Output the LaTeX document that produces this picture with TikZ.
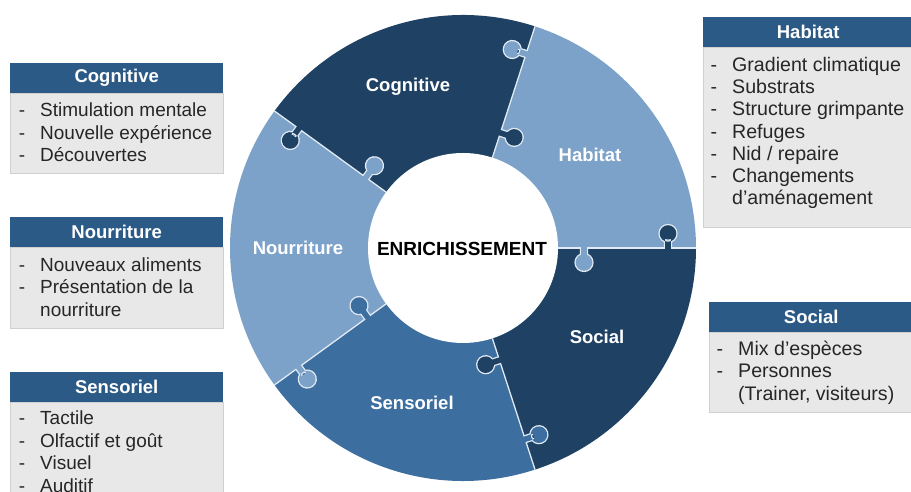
\documentclass[tikz,border=0pt]{standalone}
\usepackage{fontspec}
\setmainfont{Liberation Sans}
\definecolor{pieceDark}{HTML}{1F4264}
\definecolor{pieceLight}{HTML}{7CA2C9}
\definecolor{pieceMid}{HTML}{3C6E9F}
\definecolor{headBlue}{HTML}{2C5A86}
\definecolor{bodyGray}{HTML}{E8E8E8}
\definecolor{bodyLine}{HTML}{D0D0D0}
\definecolor{seamColor}{HTML}{E2EAF3}
\newcommand{\listdash}{\llap{-\hspace{15pt}}}
\begin{document}
\begin{tikzpicture}[x=1pt,y=1pt,
  seam/.style={draw=seamColor, line width=1.3pt},
  headbox/.style={fill=headBlue, text=white, anchor=north west, inner sep=0pt,
    minimum height=30pt, font=\bfseries\fontsize{18.5}{22}\selectfont},
  bodybox/.style={fill=bodyGray, draw=bodyLine, line width=0.8pt, anchor=north west, inner sep=0pt},
  item/.style={anchor=base west, inner sep=0pt, text=black!85, font=\fontsize{19}{22.5}\selectfont},
  itemR/.style={item, font=\fontsize{19.6}{22.5}\selectfont},
  piecelabel/.style={text=white, inner sep=0pt, font=\bfseries\fontsize{18.5}{22}\selectfont}]
\clip (0,0) rectangle (911,492);
\fill[white] (0,0) rectangle (911,492);

% ---- puzzle ring ----
\begin{scope}[shift={(463,244)}]
  \fill[pieceLight] (0,0) -- (0:233) arc[start angle=0, end angle=72, radius=233] -- cycle;
  \fill[pieceDark] (0,0) -- (72:233) arc[start angle=72, end angle=144, radius=233] -- cycle;
  \fill[pieceLight] (0,0) -- (144:233) arc[start angle=144, end angle=216, radius=233] -- cycle;
  \fill[pieceMid] (0,0) -- (216:233) arc[start angle=216, end angle=288, radius=233] -- cycle;
  \fill[pieceDark] (0,0) -- (288:233) arc[start angle=288, end angle=360, radius=233] -- cycle;
  % seams between the pieces
  \foreach \a in {0,72,144,216,288}
    \draw[seam] (\a:95) -- (\a:233);
  % knobs: seam angle / radius / side / colour of the piece they belong to
  \foreach \a/\r/\s/\c in {72/204/1/pieceLight, 72/121/-1/pieceDark,
                           0/205/1/pieceDark, 0/121/-1/pieceLight,
                           288/201/1/pieceMid, 288/118/-1/pieceDark,
                           216/203/1/pieceLight, 216/118/-1/pieceMid,
                           144/203/1/pieceDark, 144/120/-1/pieceLight} {
    \begin{scope}[rotate=\a]
      \draw[draw=seamColor, line width=2.6pt]
        (\r,{\s*14.5}) circle[radius=8.3]
        ({\r-2.8},0) -- ({\r-2.8},{\s*9})
        ({\r+2.8},0) -- ({\r+2.8},{\s*9});
      \fill[\c] (\r,{\s*14.5}) circle[radius=8.3]
        ({\r-2.8},{(-2)*\s}) rectangle ({\r+2.8},{\s*9});
    \end{scope}
  }
  \fill[white] (0,0) circle[radius=95];
\end{scope}

\node[inner sep=0pt, font=\bfseries\fontsize{19}{22}\selectfont] (centre) at (462,243) {ENRICHISSEMENT};
\node[piecelabel] (lblCog) at (408,405) {Cognitive};
\node[piecelabel] (lblHab) at (590,337) {Habitat};
\node[piecelabel] (lblNou) at (298,244) {Nourriture};
\node[piecelabel] (lblSoc) at (597,155) {Social};
\node[piecelabel] (lblSen) at (412,89) {Sensoriel};

% ---- Cognitive ----
\node[bodybox, minimum width=213pt, minimum height=80pt] (cogBody) at (10,399) {};
\node[headbox, minimum width=213pt] (cogHead) at (10,429) {Cognitive};
\node[item] (cog1) at (40,375) {\listdash Stimulation mentale};
\node[item] (cog2) at (40,352.5) {\listdash Nouvelle expérience};
\node[item] (cog3) at (40,330) {\listdash Découvertes};

% ---- Nourriture ----
\node[bodybox, minimum width=213pt, minimum height=81pt] (nouBody) at (10,245) {};
\node[headbox, minimum width=213pt] (nouHead) at (10,275) {Nourriture};
\node[item] (nou1) at (40,220.5) {\listdash Nouveaux aliments};
\node[item] (nou2) at (40,198) {\listdash Présentation de la};
\node[item] (nou3) at (40,175.5) {nourriture};

% ---- Sensoriel ----
\node[bodybox, minimum width=213pt, minimum height=92pt] (senBody) at (10,90) {};
\node[headbox, minimum width=213pt] (senHead) at (10,120) {Sensoriel};
\node[item] (sen1) at (40,67) {\listdash Tactile};
\node[item] (sen2) at (40,44.5) {\listdash Olfactif et goût};
\node[item] (sen3) at (40,22) {\listdash Visuel};
\node[item] (sen4) at (40,-0.5) {\listdash Auditif};

% ---- Habitat ----
\node[bodybox, minimum width=210pt, minimum height=180pt] (habBody) at (703,445) {};
\node[headbox, minimum width=210pt] (habHead) at (703,475) {Habitat};
\node[itemR] (hab1) at (732,420.5) {\listdash Gradient climatique};
\node[itemR] (hab2) at (732,398.2) {\listdash Substrats};
\node[itemR] (hab3) at (732,376) {\listdash Structure grimpante};
\node[itemR] (hab4) at (732,353.7) {\listdash Refuges};
\node[itemR] (hab5) at (732,331.4) {\listdash Nid / repaire};
\node[itemR] (hab6) at (732,309) {\listdash Changements};
\node[itemR] (hab7) at (732,287) {d'aménagement};

% ---- Social ----
\node[bodybox, minimum width=204pt, minimum height=80pt] (socBody) at (709,160) {};
\node[headbox, minimum width=204pt] (socHead) at (709,190) {Social};
\node[itemR] (soc1) at (738,136.5) {\listdash Mix d'espèces};
\node[itemR] (soc2) at (738,114) {\listdash Personnes};
\node[itemR] (soc3) at (738,91.5) {(Trainer, visiteurs)};
\end{tikzpicture}
\end{document}
